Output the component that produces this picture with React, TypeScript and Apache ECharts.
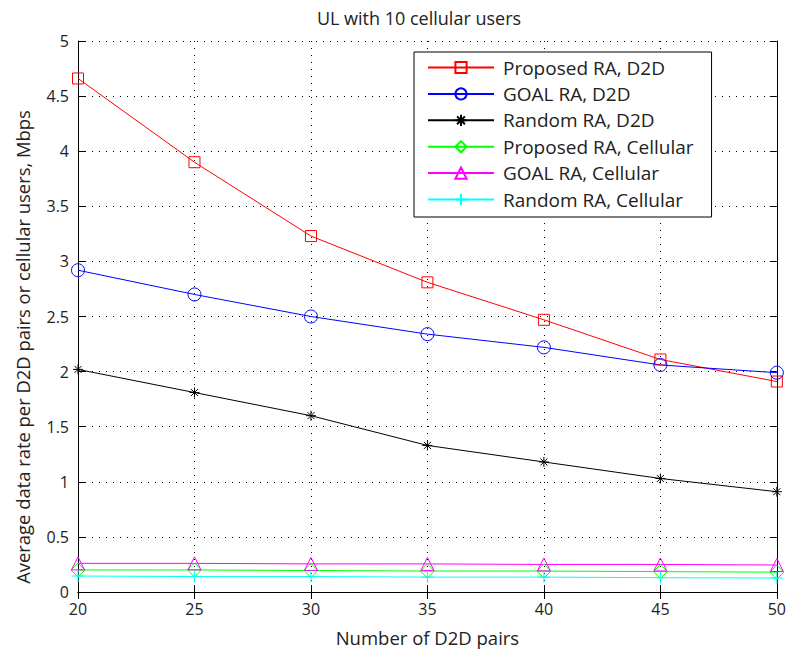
import React, { useEffect, useRef } from "react";
import * as echarts from "echarts";

const d2dPairs = [20, 25, 30, 35, 40, 45, 50];
const proposedD2D = [4.66, 3.9, 3.23, 2.81, 2.47, 2.11, 1.91];
const goalD2D = [2.92, 2.7, 2.5, 2.34, 2.22, 2.06, 1.99];
const randomD2D = [2.02, 1.81, 1.6, 1.33, 1.18, 1.03, 0.91];
const proposedCell = [0.2, 0.2, 0.195, 0.19, 0.19, 0.185, 0.18];
const goalCell = [0.26, 0.26, 0.255, 0.255, 0.25, 0.25, 0.245];
const randomCell = [0.145, 0.14, 0.14, 0.135, 0.135, 0.13, 0.127];

const FONT = "'Open Sans', 'DejaVu Sans', sans-serif";
const TEXT = "#222";
const ASTERISK = "path://M0,-1L0,1M-1,0L1,0M-0.7,-0.7L0.7,0.7M-0.7,0.7L0.7,-0.7";
const PLUS = "path://M0,-1L0,1M-1,0L1,0";

function makeSeries(name: string, values: number[], color: string, symbol: string, size: number) {
  return {
    name,
    type: "line",
    data: d2dPairs.map((x, i) => [x, values[i]]),
    symbol,
    symbolSize: size,
    showAllSymbol: true,
    lineStyle: { color, width: 1 },
    itemStyle: { color: "rgba(0,0,0,0)", borderColor: color, borderWidth: 1 },
    emphasis: { disabled: true },
  };
}

export default function App() {
  const ref = useRef<HTMLDivElement>(null);
  useEffect(() => {
    if (!ref.current) return;
    const chart = echarts.init(ref.current, undefined, { renderer: "svg" });
    const tickStyle = { inside: true, length: 7, lineStyle: { color: "#000" } };
    const dotted = { show: true, lineStyle: { color: "#000", type: [1, 6], width: 1 } };
    chart.setOption({
      animation: false,
      backgroundColor: "#fff",
      title: {
        text: "UL with 10 cellular users",
        left: 414,
        top: 4,
        textAlign: "center",
        textStyle: { fontFamily: FONT, fontSize: 18, fontWeight: "normal", color: TEXT },
      },
      grid: { left: 78, top: 41, right: 12, bottom: 61 },
      legend: {
        orient: "vertical",
        left: 414,
        top: 52,
        padding: [6, 18, 8, 13],
        itemWidth: 66,
        itemHeight: 14,
        itemGap: 7.4,
        backgroundColor: "#fff",
        borderColor: "#000",
        borderWidth: 1,
        textStyle: { fontFamily: FONT, fontSize: 19, color: TEXT, padding: [0, 0, 0, 4] },
        data: [
          "Proposed RA, D2D",
          "GOAL RA, D2D",
          "Random RA, D2D",
          "Proposed RA, Cellular",
          "GOAL RA, Cellular",
          "Random RA, Cellular",
        ],
      },
      graphic: [
        {
          type: "text",
          x: 22,
          y: 347,
          rotation: Math.PI / 2,
          style: {
            text: "Average data rate per D2D pairs or cellular users, Mbps",
            fontFamily: FONT,
            fontSize: 18.4,
            fill: TEXT,
            align: "center",
            verticalAlign: "middle",
          },
        },
      ],
      xAxis: [
        {
          type: "value",
          min: 20,
          max: 50,
          interval: 5,
          name: "Number of D2D pairs",
          nameLocation: "middle",
          nameGap: 36,
          nameTextStyle: { fontFamily: FONT, fontSize: 18.5, color: TEXT },
          axisLine: { lineStyle: { color: "#000" } },
          axisTick: tickStyle,
          axisLabel: { fontFamily: FONT, fontSize: 16, color: TEXT, margin: 9 },
          splitLine: dotted,
        },
        {
          type: "value",
          position: "top",
          min: 20,
          max: 50,
          interval: 5,
          axisLine: { lineStyle: { color: "#000" } },
          axisTick: tickStyle,
          axisLabel: { show: false },
          splitLine: { show: false },
        },
      ],
      yAxis: [
        {
          type: "value",
          min: 0,
          max: 5,
          interval: 0.5,
          axisLine: { show: true, lineStyle: { color: "#000" } },
          axisTick: { show: true, ...tickStyle },
          axisLabel: { fontFamily: FONT, fontSize: 16, color: TEXT, margin: 9 },
          splitLine: dotted,
        },
        {
          type: "value",
          position: "right",
          min: 0,
          max: 5,
          interval: 0.5,
          axisLine: { show: true, lineStyle: { color: "#000" } },
          axisTick: { show: true, ...tickStyle },
          axisLabel: { show: false },
          splitLine: { show: false },
        },
      ],
      series: [
        makeSeries("Proposed RA, D2D", proposedD2D, "#ff0000", "rect", 11),
        makeSeries("GOAL RA, D2D", goalD2D, "#0000ff", "circle", 13),
        makeSeries("Random RA, D2D", randomD2D, "#000000", ASTERISK, 10),
        makeSeries("Proposed RA, Cellular", proposedCell, "#00ff00", "diamond", 14),
        makeSeries("GOAL RA, Cellular", goalCell, "#ff00ff", "triangle", 13),
        makeSeries("Random RA, Cellular", randomCell, "#00ffff", PLUS, 12),
      ],
    });
    return () => chart.dispose();
  }, []);
  return (
    <div
      ref={ref}
      style={{ position: "fixed", left: 0, top: 0, width: 789, height: 653 }}
    />
  );
}
